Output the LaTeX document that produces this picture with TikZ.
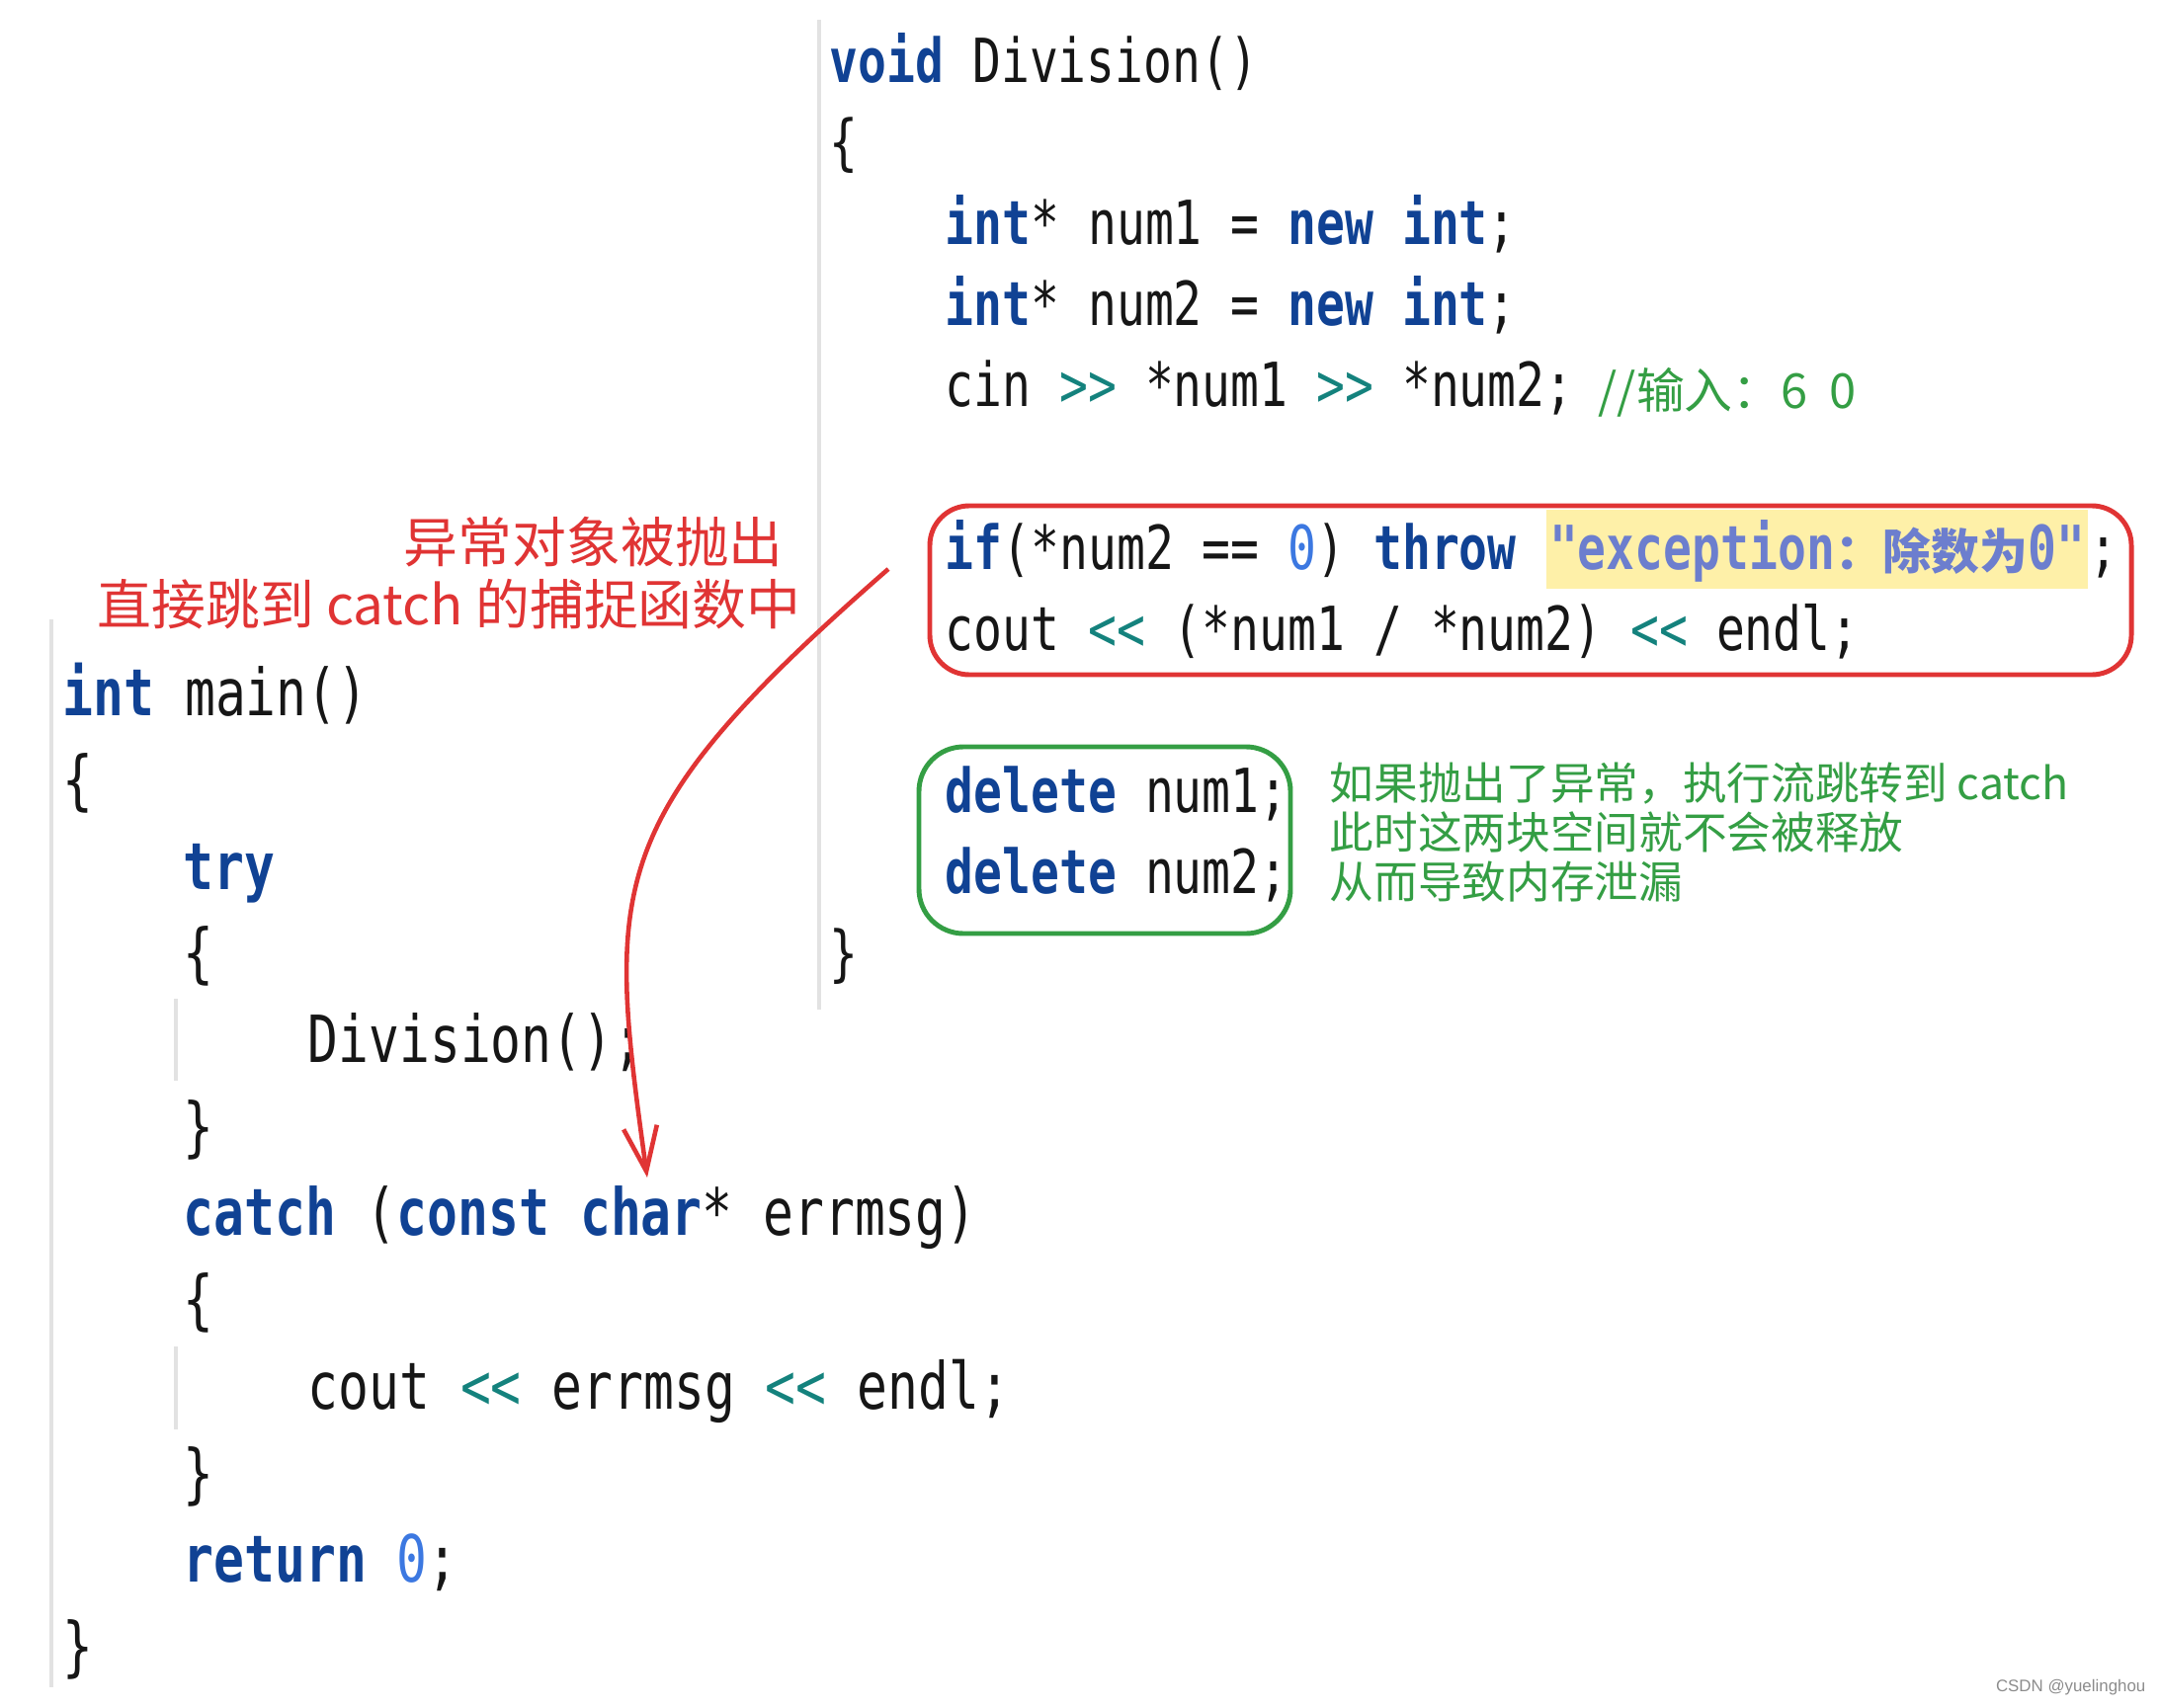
\documentclass[tikz,border=0pt]{standalone}
\usepackage{fontspec}
\setmonofont{DejaVu Sans Mono}[FakeStretch=0.78]
\newfontfamily\cjk{Noto Sans CJK SC}
\newfontfamily\wmfont{Liberation Sans}
\usetikzlibrary{arrows.meta}

\definecolor{kwblue}{RGB}{16,66,148}
\definecolor{opteal}{RGB}{20,130,125}
\definecolor{numblue}{RGB}{60,120,225}
\definecolor{strblue}{RGB}{108,126,206}
\definecolor{hlyellow}{RGB}{254,240,168}
\definecolor{codeblack}{RGB}{22,22,22}
\definecolor{guidegray}{RGB}{226,226,226}
\definecolor{markred}{RGB}{224,52,52}
\definecolor{markgreen}{RGB}{52,158,68}

\newcommand{\kw}[1]{\textcolor{kwblue}{\bfseries #1}}
\newcommand{\opr}[1]{\textcolor{opteal}{#1}}
\newcommand{\numlit}[1]{\textcolor{numblue}{#1}}

\tikzset{
  rcode/.style={anchor=base west, text=codeblack, font=\ttfamily\fontsize{17.5}{21}\selectfont},
  lcode/.style={anchor=base west, text=codeblack, font=\ttfamily\fontsize{18.7}{22}\selectfont},
  guide/.style={draw=guidegray, line width=1pt},
  throwbox/.style={draw=markred, line width=1.4pt, rounded corners=0.4cm},
  leakbox/.style={draw=markgreen, line width=1.4pt, rounded corners=0.45cm},
  rednote/.style={anchor=base west, text=markred, font=\cjk\fontsize{15.6}{18}\selectfont},
  greennote/.style={anchor=base west, text=markgreen, font=\cjk\fontsize{12.7}{15}\selectfont},
}

\begin{document}
\begin{tikzpicture}[x=0.01cm, y=0.01cm]
\tikzstyle{every node}+=[inner sep=0pt]
\useasboundingbox (0,0) rectangle (2186,-1728);
\draw [guide] (829,-20) -- (829,-1022);
\draw [guide] (52,-627) -- (52,-1708);
\draw [guide] (178,-1011) -- (178,-1094);
\draw [guide] (178,-1363) -- (178,-1447);
\node (divsig) [rcode] at (839,-84) {\kw{void} Division()};
\node (divopen) [rcode] at (839,-166) {\{};
\node (newnum1) [rcode] at (956,-248) {\kw{int}* num1 = \kw{new} \kw{int};};
\node (newnum2) [rcode] at (956,-330) {\kw{int}* num2 = \kw{new} \kw{int};};
\node (readnums) [rcode] at (956,-412) {cin \opr{>>} *num1 \opr{>>} *num2;};
\node (inputnote) [anchor=base west, text=markgreen, font=\cjk\fontsize{13.9}{16}\selectfont] at (1617,-414) {//输入：6\ \ 0};
\node (ifhead) [rcode] at (956,-576) {\kw{if}(*num2 == \numlit{0}) \kw{throw}\phantom{x}};
\node (ifstr) [rcode, fill=hlyellow, text=strblue, text height=0.52cm, text depth=0.12cm, inner ysep=0.08cm, inner xsep=0.03cm] at (ifhead.base east) {\bfseries "exception{\cjk\fontsize{13.9}{16}\selectfont ：除数为}0"};
\node (ifsemi) [rcode] at (ifstr.base east) {;};
\node (coutdiv) [rcode] at (956,-658) {cout \opr{<<} (*num1 / *num2) \opr{<<} endl;};
\draw [throwbox] (941,-512) rectangle (2157,-683);
\node (del1) [rcode] at (956,-822) {\kw{delete} num1;};
\node (del2) [rcode] at (956,-904) {\kw{delete} num2;};
\draw [leakbox] (930,-756) rectangle (1306,-945);
\node (divclose) [rcode] at (839,-986) {\}};
\node (leak1) [greennote] at (1345,-809) {如果抛出了异常，执行流跳转到 catch};
\node (leak2) [greennote] at (1345,-859) {此时这两块空间就不会被释放};
\node (leak3) [greennote] at (1345,-909) {从而导致内存泄漏};
\node (mainsig) [lcode] at (63,-724) {\kw{int} main()};
\node (mainopen) [lcode] at (63,-812) {\{};
\node (trykw) [lcode] at (185,-900) {\kw{try}};
\node (tryopen) [lcode] at (185,-987) {\{};
\node (divcall) [lcode] at (311,-1075) {Division();};
\node (tryclose) [lcode] at (185,-1163) {\}};
\node (catchhead) [lcode] at (185,-1250) {\kw{catch} (\kw{const} \kw{char}* errmsg)};
\node (catchopen) [lcode] at (185,-1338) {\{};
\node (coutmsg) [lcode] at (311,-1426) {cout \opr{<<} errmsg \opr{<<} endl;};
\node (catchclose) [lcode] at (185,-1514) {\}};
\node (retzero) [lcode] at (185,-1601) {\kw{return} \numlit{0};};
\node (mainclose) [lcode] at (63,-1689) {\}};
\node (thrown) [rednote] at (408,-569) {异常对象被抛出};
\node (jumpnote) [rednote] at (98,-632) {直接跳到 catch 的捕捉函数中};
\coordinate (throwpt) at (899,-576);
\coordinate (catchpt) at (655,-1192);
\draw [markred, line width=1.3pt, -{Straight Barb[length=4.5mm,width=3.4mm]}] (throwpt) .. controls (608,-830) and (614,-895) .. (catchpt);
\node (wmark) [anchor=east, text=black!45, font=\wmfont\fontsize{4.8}{6}\selectfont] at (2172,-1708) {CSDN @yuelinghou};
\end{tikzpicture}
\end{document}
